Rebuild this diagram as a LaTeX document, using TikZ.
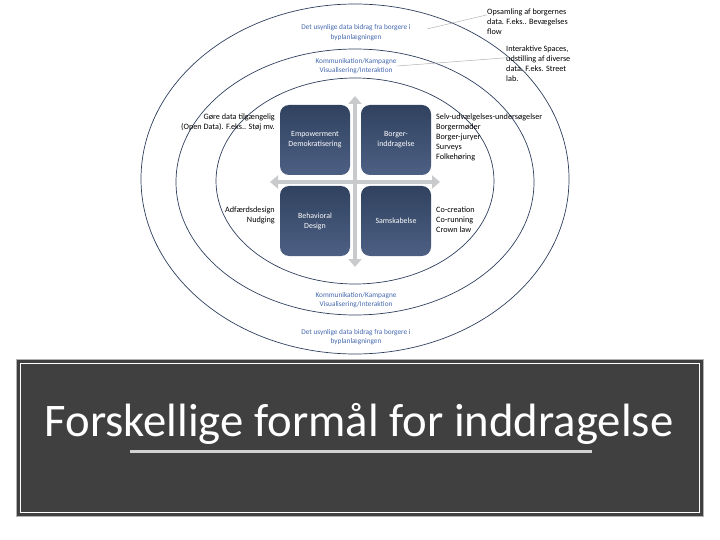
\documentclass[tikz,border=0pt]{standalone}
\usepackage{fontspec}
\setmainfont{Carlito}
\usetikzlibrary{arrows.meta}
\definecolor{ringblue}{HTML}{2F3F5E}
\definecolor{labelblue}{HTML}{4468AD}
\definecolor{boxtop}{HTML}{30425F}
\definecolor{boxbottom}{HTML}{4D6084}
\definecolor{crossgray}{HTML}{C9CACC}
\definecolor{panelgray}{HTML}{404040}
\tikzset{
  ring/.style={draw=ringblue, line width=0.7pt},
  quadbox/.style={rounded corners=9pt, top color=boxtop, bottom color=boxbottom, minimum width=70pt, minimum height=70pt, text=white, align=center, font=\fontsize{7.9}{10}\selectfont},
  sidetext/.style={inner sep=0pt, font=\fontsize{8.2}{10}\selectfont},
  bandlabel/.style={inner sep=0pt, align=center, text=labelblue, font=\fontsize{7.3}{9.2}\selectfont},
  leader/.style={draw=gray!60, line width=0.5pt},
  crossarrow/.style={{Triangle[width=13pt,length=8pt]}-{Triangle[width=13pt,length=8pt]}, line width=4.5pt, draw=crossgray},
  panelbox/.style={fill=panelgray, draw=gray!60, line width=0.4pt, minimum width=687pt, minimum height=157pt},
  panelframe/.style={draw=white, line width=1pt, minimum width=679pt, minimum height=149pt},
  titletext/.style={text=white, inner sep=0pt, font=\fontsize{46.7}{52}\selectfont}
}

\begin{document}
\begin{tikzpicture}[x=1pt, y=-1pt, >=Latex]
  \useasboundingbox (0,0) rectangle (720,540);
  % rings
  \draw[ring] (355,179) ellipse [x radius=214, y radius=175];
  \draw[ring] (355,182) ellipse [x radius=179, y radius=133];
  \draw[ring] (355,181) ellipse [x radius=139, y radius=103];
  % ring labels
  \node[bandlabel] (outtop) at (356,32.5) {Det usynlige data bidrag fra borgere i\\byplanlægningen};
  \node[bandlabel] (midtop) at (356,66) {Kommunikation/Kampagne\\Visualisering/Interaktion};
  \node[bandlabel] (midbot) at (356,300) {Kommunikation/Kampagne\\Visualisering/Interaktion};
  \node[bandlabel] (outbot) at (356,337) {Det usynlige data bidrag fra borgere i\\byplanlægningen};
  % cross
  \coordinate (hl) at (270,182);
  \coordinate (hr) at (440,182);
  \coordinate (vt) at (355,96);
  \coordinate (vb) at (355,267);
  \draw[crossarrow] (hl) -- (hr);
  \draw[crossarrow] (vt) -- (vb);
  % quadrants
  \node[quadbox] (empow) at (315,140) {Empowerment\\Demokratisering};
  \node[quadbox] (borger) at (396,140) {Borger-\\inddragelse};
  \node[quadbox] (behav) at (315,221) {Behavioral\\Design};
  \node[quadbox] (samsk) at (396,221) {Samskabelse};
  % side texts
  \node[sidetext, align=right, anchor=east] (opendata) at (275,122) {Gøre data tilgængelig\\(Open Data). F.eks.. Støj mv.};
  \node[sidetext, align=left, anchor=west] (metoder) at (436,137) {Selv-udvælgelses-undersøgelser\\Borgermøder\\Borger-juryer\\Surveys\\Folkehøring};
  \node[sidetext, align=right, anchor=east] (nudge) at (275,215) {Adfærdsdesign\\Nudging};
  \node[sidetext, align=left, anchor=west] (cocreate) at (436,220) {Co-creation\\Co-running\\Crown law};
  \node[sidetext, align=left, anchor=west] (opsaml) at (487,22) {Opsamling af borgernes\\data. F.eks.. Bevægelses\\flow};
  \node[sidetext, align=left, anchor=west] (interak) at (506,63.5) {Interaktive Spaces,\\udstilling af diverse\\data. F.eks. Street\\lab.};
  \coordinate (pinA) at (427,29);
  \coordinate (pinB) at (397,66);
  \draw[leader] (opsaml.170) -- (pinA);
  \draw[leader] (interak.170) -- (pinB);
  % title panel
  \node[panelbox] (panel) at (359.5,437.5) {};
  \node[panelframe] (frame) at (359.5,437.5) {};
  \node[titletext, anchor=base] (title) at (359,436) {Forskellige formål for inddragelse};
  \coordinate (ulA) at (130,451);
  \coordinate (ulB) at (592,451);
  \draw[gray!35, line width=3pt] (ulA) -- (ulB);
\end{tikzpicture}
\end{document}
